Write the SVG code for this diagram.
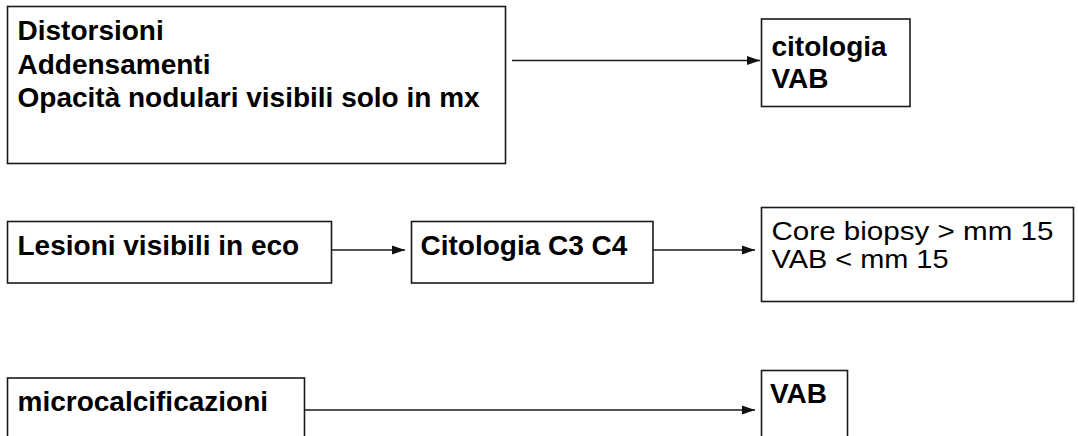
<svg xmlns="http://www.w3.org/2000/svg" width="1078" height="436" viewBox="0 0 1078 436">
<style>
.box{fill:#fff;stroke:#1a1a1a;stroke-width:1.6}
.t{font-family:"Liberation Sans",Arial,sans-serif;font-size:28px;font-weight:bold;fill:#000}
.r{font-weight:normal;font-size:26px}
.edge{stroke:#1a1a1a;stroke-width:1.6;fill:none;marker-end:url(#arr)}
</style>
<defs>
<marker id="arr" markerUnits="userSpaceOnUse" markerWidth="14" markerHeight="10" refX="13" refY="5" orient="auto">
<path d="M0,0.5 L13,5 L0,9.5 Z" fill="#111"/>
</marker>
</defs>
<rect width="1078" height="436" fill="#fff"/>
<g id="connectors">
<line class="edge" x1="512" y1="60.5" x2="760" y2="60.5"/>
<line class="edge" x1="331.5" y1="250" x2="405" y2="250"/>
<line class="edge" x1="653" y1="250" x2="755" y2="250"/>
<line class="edge" x1="305" y1="410" x2="755" y2="410"/>
</g>
<g id="n1">
<rect class="box" x="7.5" y="6.5" width="498" height="157"/>
<text class="t" x="17.5" y="40">Distorsioni</text>
<text class="t" x="17.5" y="74">Addensamenti</text>
<text class="t" x="17.5" y="107">Opacità nodulari visibili solo in mx</text>
</g>
<g id="n2">
<rect class="box" x="761.5" y="19" width="148.5" height="87.5"/>
<text class="t" x="771.5" y="55.5">citologia</text>
<text class="t" x="771.5" y="88">VAB</text>
</g>
<g id="n3">
<rect class="box" x="7.5" y="221.5" width="324" height="61.5"/>
<text class="t" x="17.5" y="255">Lesioni visibili in eco</text>
</g>
<g id="n4">
<rect class="box" x="411.5" y="221.5" width="241.5" height="61.5"/>
<text class="t" x="420.5" y="255">Citologia C3 C4</text>
</g>
<g id="n5">
<rect class="box" x="761.5" y="207.5" width="312" height="94"/>
<text class="t r" x="771.5" y="240" textLength="282" lengthAdjust="spacingAndGlyphs">Core biopsy &gt; mm 15</text>
<text class="t r" x="771.5" y="268" textLength="177" lengthAdjust="spacingAndGlyphs">VAB &lt; mm 15</text>
</g>
<g id="n6">
<rect class="box" x="7.5" y="378" width="297" height="80"/>
<text class="t" x="17.5" y="411">microcalcificazioni</text>
</g>
<g id="n7">
<rect class="box" x="761.5" y="370.5" width="86" height="90"/>
<text class="t" x="770" y="403">VAB</text>
</g>
</svg>
